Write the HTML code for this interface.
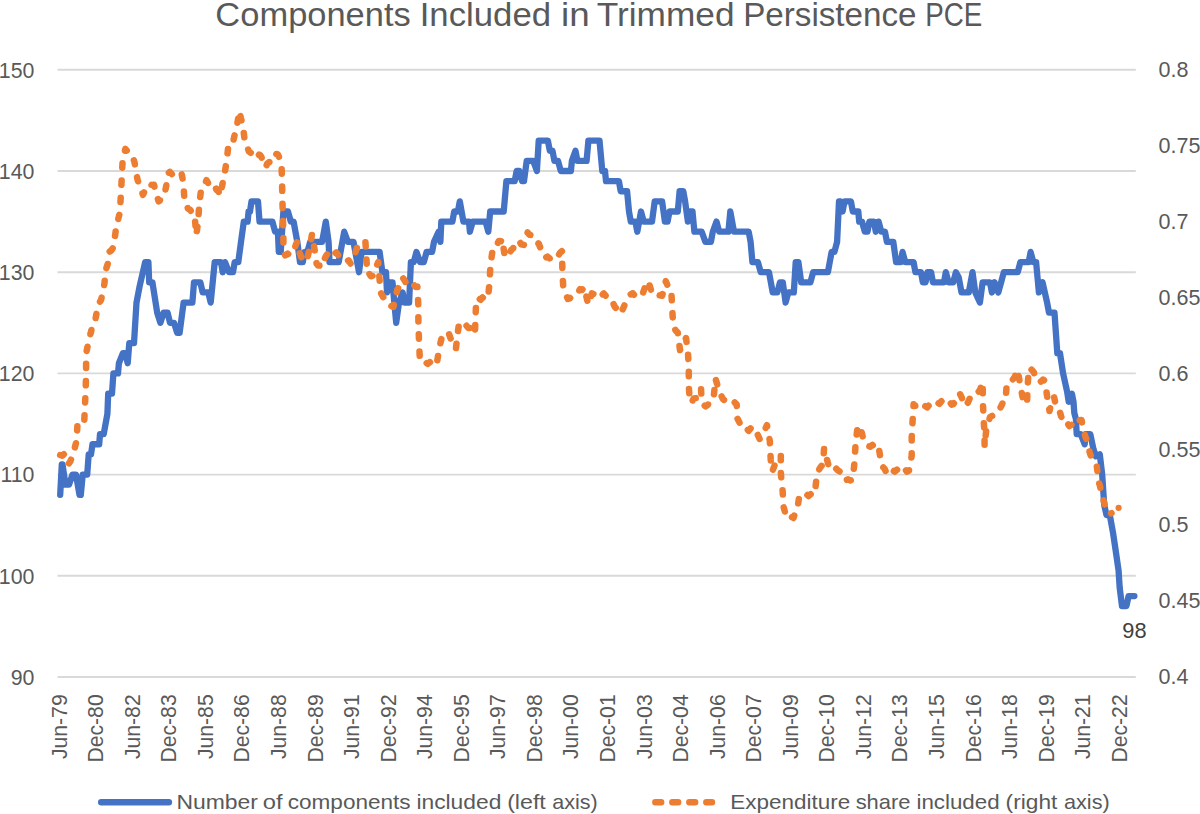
<!DOCTYPE html><html><head><meta charset="utf-8"><style>html,body{margin:0;padding:0;background:#fff;}svg{display:block;}text{font-family:"Liberation Sans", sans-serif;fill:#595959;}</style></head><body>
<svg width="1200" height="814" viewBox="0 0 1200 814">
<rect width="100%" height="100%" fill="#fff"/>
<text x="215.38" y="25.8" font-size="32.6" textLength="195.38" lengthAdjust="spacingAndGlyphs">Components</text><text x="419.70" y="25.8" font-size="32.6" textLength="131.37" lengthAdjust="spacingAndGlyphs">Included</text><text x="561.04" y="25.8" font-size="32.6" textLength="28.62" lengthAdjust="spacingAndGlyphs">in</text><text x="596.82" y="25.8" font-size="32.6" textLength="137.77" lengthAdjust="spacingAndGlyphs">Trimmed</text><text x="743.19" y="25.8" font-size="32.6" textLength="173.35" lengthAdjust="spacingAndGlyphs">Persistence</text><text x="925.14" y="25.8" font-size="32.6" textLength="57.11" lengthAdjust="spacingAndGlyphs">PCE</text>
<path d="M57.5 69.8H1135.8M57.5 171H1135.8M57.5 272.2H1135.8M57.5 373.4H1135.8M57.5 474.6H1135.8M57.5 575.8H1135.8M57.5 677H1135.8" stroke="#D9D9D9" stroke-width="1.9" fill="none"/>
<text transform="translate(34.4 77.6) scale(0.96 1)" font-size="22.2" text-anchor="end">150</text>
<text transform="translate(34.4 178.8) scale(0.96 1)" font-size="22.2" text-anchor="end">140</text>
<text transform="translate(34.4 280) scale(0.96 1)" font-size="22.2" text-anchor="end">130</text>
<text transform="translate(34.4 381.2) scale(0.96 1)" font-size="22.2" text-anchor="end">120</text>
<text transform="translate(34.4 482.4) scale(0.96 1)" font-size="22.2" text-anchor="end">110</text>
<text transform="translate(34.4 583.6) scale(0.96 1)" font-size="22.2" text-anchor="end">100</text>
<text transform="translate(34.4 684.8) scale(0.96 1)" font-size="22.2" text-anchor="end">90</text>
<text transform="translate(1158.6 77) scale(0.97 1)" font-size="22.2">0.8</text>
<text transform="translate(1158.6 152.9) scale(0.97 1)" font-size="22.2">0.75</text>
<text transform="translate(1158.6 228.8) scale(0.97 1)" font-size="22.2">0.7</text>
<text transform="translate(1158.6 304.7) scale(0.97 1)" font-size="22.2">0.65</text>
<text transform="translate(1158.6 380.6) scale(0.97 1)" font-size="22.2">0.6</text>
<text transform="translate(1158.6 456.5) scale(0.97 1)" font-size="22.2">0.55</text>
<text transform="translate(1158.6 532.4) scale(0.97 1)" font-size="22.2">0.5</text>
<text transform="translate(1158.6 608.3) scale(0.97 1)" font-size="22.2">0.45</text>
<text transform="translate(1158.6 684.2) scale(0.97 1)" font-size="22.2">0.4</text>
<text transform="translate(66.7 694.3) rotate(-90)" font-size="21.2" text-anchor="end">Jun-79</text>
<text transform="translate(103.25 694.3) rotate(-90)" font-size="21.2" text-anchor="end">Dec-80</text>
<text transform="translate(139.81 694.3) rotate(-90)" font-size="21.2" text-anchor="end">Jun-82</text>
<text transform="translate(176.36 694.3) rotate(-90)" font-size="21.2" text-anchor="end">Dec-83</text>
<text transform="translate(212.91 694.3) rotate(-90)" font-size="21.2" text-anchor="end">Jun-85</text>
<text transform="translate(249.46 694.3) rotate(-90)" font-size="21.2" text-anchor="end">Dec-86</text>
<text transform="translate(286.02 694.3) rotate(-90)" font-size="21.2" text-anchor="end">Jun-88</text>
<text transform="translate(322.57 694.3) rotate(-90)" font-size="21.2" text-anchor="end">Dec-89</text>
<text transform="translate(359.12 694.3) rotate(-90)" font-size="21.2" text-anchor="end">Jun-91</text>
<text transform="translate(395.67 694.3) rotate(-90)" font-size="21.2" text-anchor="end">Dec-92</text>
<text transform="translate(432.23 694.3) rotate(-90)" font-size="21.2" text-anchor="end">Jun-94</text>
<text transform="translate(468.78 694.3) rotate(-90)" font-size="21.2" text-anchor="end">Dec-95</text>
<text transform="translate(505.33 694.3) rotate(-90)" font-size="21.2" text-anchor="end">Jun-97</text>
<text transform="translate(541.88 694.3) rotate(-90)" font-size="21.2" text-anchor="end">Dec-98</text>
<text transform="translate(578.44 694.3) rotate(-90)" font-size="21.2" text-anchor="end">Jun-00</text>
<text transform="translate(614.99 694.3) rotate(-90)" font-size="21.2" text-anchor="end">Dec-01</text>
<text transform="translate(651.54 694.3) rotate(-90)" font-size="21.2" text-anchor="end">Jun-03</text>
<text transform="translate(688.09 694.3) rotate(-90)" font-size="21.2" text-anchor="end">Dec-04</text>
<text transform="translate(724.65 694.3) rotate(-90)" font-size="21.2" text-anchor="end">Jun-06</text>
<text transform="translate(761.2 694.3) rotate(-90)" font-size="21.2" text-anchor="end">Dec-07</text>
<text transform="translate(797.75 694.3) rotate(-90)" font-size="21.2" text-anchor="end">Jun-09</text>
<text transform="translate(834.3 694.3) rotate(-90)" font-size="21.2" text-anchor="end">Dec-10</text>
<text transform="translate(870.86 694.3) rotate(-90)" font-size="21.2" text-anchor="end">Jun-12</text>
<text transform="translate(907.41 694.3) rotate(-90)" font-size="21.2" text-anchor="end">Dec-13</text>
<text transform="translate(943.96 694.3) rotate(-90)" font-size="21.2" text-anchor="end">Jun-15</text>
<text transform="translate(980.51 694.3) rotate(-90)" font-size="21.2" text-anchor="end">Dec-16</text>
<text transform="translate(1017.07 694.3) rotate(-90)" font-size="21.2" text-anchor="end">Jun-18</text>
<text transform="translate(1053.62 694.3) rotate(-90)" font-size="21.2" text-anchor="end">Dec-19</text>
<text transform="translate(1090.17 694.3) rotate(-90)" font-size="21.2" text-anchor="end">Jun-21</text>
<text transform="translate(1126.73 694.3) rotate(-90)" font-size="21.2" text-anchor="end">Dec-22</text>
<polyline points="60.2,494.84 61.8,464.48 62.5,464.48 65.5,484.72 69,484.72 72.5,474.6 76,474.6 79.5,494.84 80.8,494.84 82.7,474.6 87.2,474.6 88.7,454.36 91,454.36 92.5,444.24 99.2,444.24 100,434.12 103.7,434.12 107.4,413.88 108.2,393.64 112,393.64 113.4,373.4 118,373.4 118.9,363.28 122.9,353.16 125.3,353.16 127.7,363.28 129.3,343.04 134,343.04 136.5,302.56 139.6,286.37 145.2,262.08 148.4,262.08 149.2,282.32 152.4,282.32 157.2,312.68 160.4,322.8 163.6,312.68 167.6,312.68 170,322.8 174,322.8 177.2,332.92 179.6,332.92 183.6,302.56 192.4,302.56 194,282.32 200.3,282.32 202.7,292.44 208.3,292.44 210.7,302.56 214.7,262.08 221,262.08 222.7,272.2 225,262.08 229,272.2 233,272.2 234.7,262.08 238.3,262.08 241,241.84 243.8,221.6 247.6,221.6 248.6,211.48 250,211.48 251.5,201.36 258,201.36 259.5,221.6 272.4,221.6 275.1,231.72 277.9,231.72 278.8,251.96 280.7,251.96 283.4,211.48 288,211.48 290.8,221.6 293.6,221.6 297.3,241.84 300,262.08 302.8,262.08 304.6,251.96 307.4,251.96 310.2,241.84 322.1,241.84 325.8,221.6 328.6,241.84 329.5,262.08 338.7,262.08 344.2,231.72 347.9,241.84 353.5,241.84 359,272.2 361.7,251.96 379.6,251.96 382.4,272.2 386,272.2 387,292.44 389.7,282.32 392.5,282.32 394.3,302.56 396.2,322.8 399,302.56 402.6,292.44 404.5,302.56 409.1,302.56 410.9,262.08 413.7,262.08 416.5,251.96 420.1,262.08 423.8,262.08 426.6,251.96 432.1,251.96 434,241.84 438.6,231.72 440.4,241.84 441.3,221.6 452.4,221.6 454.2,211.48 457.9,211.48 459.8,201.36 463.4,221.6 469,221.6 469.9,231.72 472.7,221.6 485.6,221.6 488.3,231.72 490.2,211.48 503.7,211.48 506.4,181.12 514.7,181.12 516.6,171 519.3,171 522.1,181.12 524,181.12 526.7,160.88 533.2,160.88 536.9,171 538.7,140.64 547.9,140.64 549.8,150.76 552.5,150.76 554.4,160.88 558,160.88 560.8,171 570.9,171 571.9,160.88 575.5,150.76 577.4,160.88 586.6,160.88 588.4,140.64 599.5,140.64 602.3,171 605,171 606,181.12 618.9,181.12 620.7,191.24 627.1,191.24 629,211.48 630.8,221.6 635.4,221.6 637.3,231.72 641,211.48 643.7,221.6 652,221.6 654.7,201.36 662.1,201.36 664.9,221.6 667.6,221.6 669.5,211.48 677.8,211.48 679.6,191.24 683.3,191.24 685.1,201.36 687.9,221.6 689.8,211.48 692.5,211.48 694.4,231.72 701.7,231.72 705.4,241.84 710.9,241.84 712.8,231.72 716.5,221.6 719.2,231.72 728.4,231.72 730.3,211.48 734,231.72 748.7,231.72 750.6,241.84 752.4,262.08 757.9,262.08 760.7,272.2 769,272.2 772.7,292.44 777.3,292.44 780,282.32 782.8,282.32 785.6,302.56 788.3,292.44 793.8,292.44 795.7,262.08 798.4,262.08 801.2,282.32 810.4,282.32 813.2,272.2 827.9,272.2 831.6,251.96 834.4,251.96 837.1,241.84 839,201.36 840.8,201.36 842.6,211.48 844.5,201.36 850.9,201.36 852.8,211.48 858.3,211.48 859.2,221.6 862,221.6 864.8,231.72 867.5,231.72 869.4,221.6 874,221.6 875.8,231.72 878.6,221.6 881.3,231.72 885,231.72 886.9,241.84 893.3,241.84 896.1,262.08 900.7,262.08 902.5,251.96 905.3,262.08 913.6,262.08 915.4,272.2 921,272.2 922.8,282.32 925.6,282.32 927.4,272.2 931.1,272.2 932.9,282.32 944,282.32 945.8,272.2 948.6,282.32 953.2,282.32 955.9,272.2 958.7,277.26 961.5,292.44 968.8,292.44 972.5,272.2 975.3,292.44 979.9,302.56 982.6,282.32 990,282.32 991.9,292.44 994.6,282.32 998.3,292.44 1001.1,282.32 1003.8,272.2 1017.7,272.2 1020.4,262.08 1028.7,262.08 1030.6,251.96 1033.3,262.08 1036.1,262.08 1038.9,292.44 1042.5,282.32 1047.1,302.56 1049,312.68 1054.5,312.68 1057.3,353.16 1060,353.16 1063.1,373.4 1067.1,391.62 1068.7,401.74 1071.9,393.64 1073.5,401.74 1074.3,412.87 1075.9,418.94 1076.7,434.12 1080.7,434.12 1084.7,444.24 1085.5,434.12 1090.3,434.12 1093.5,449.3 1095.9,456.38 1099.8,454.36 1102.2,474.6 1104.2,504.96 1106.5,515.08 1109.8,515.08 1113.1,533.3 1116.4,555.56 1118.6,570.74 1119.7,587.94 1122,606.16 1126.4,606.16 1128.6,596.04 1134.4,596.04" fill="none" stroke="#4472C4" stroke-width="6.3" stroke-linejoin="round" stroke-linecap="round"/>
<polyline points="60.2,455 62.23,455.68 64.26,453.93 66,454.5 68.5,464 70.35,461.41 72,457 74.5,449 76.7,440 77.5,423.4 80.51,422.11 82.54,423.38 84.2,422 85,405.5 85.7,387.5 86.1,373.8 86.1,353.8 89.3,337.8 90.66,333.29 93.3,321.9 95.5,319 98,305 101,300 103,292 104.5,283 105.5,271 108,263 109,252 110.97,250.68 113,248 114.5,240 116.2,227.1 119.9,212.4 120.8,195.8 121.7,179.2 122.6,160.8 125.4,148.8 127.21,151.32 129.24,151.38 130.9,153.4 133.3,158.42 134.6,162.6 137.4,179.2 139.39,185.55 141.42,190.01 142.9,194.9 145.49,189.55 147.52,188.28 149.4,183.8 151.58,184.97 154,184.8 155.64,191.45 158.6,201.3 159.7,200.82 161.73,195.44 163.76,194.94 165,192.1 168.7,172.8 169.85,171.88 171.88,174.18 173.91,172.16 176.1,172.8 177.97,171.82 180.01,174.27 181.6,173.7 183.4,182.9 184.4,199.5 186.1,203.12 188,208.7 190.16,209.83 192.19,213.09 194.5,214.2 196.3,235 198.2,221.6 199.1,206 201,190.3 202.34,186.58 204.37,184.85 206.5,180.2 208.43,183.58 211.1,185.7 213.9,183.8 216.56,189.89 218.59,191.69 220.3,195.8 222.65,183.09 224,177.4 226.7,160.8 228.6,143.3 230.77,141.8 233.2,141.5 234.83,133.93 236.9,125.8 239.4,111 240.92,118.21 242.9,125.8 244.7,140.5 247.5,147.9 249.05,151.63 251.08,152.94 253,157.1 255.14,155.73 257.17,157.15 259.2,154.63 260.4,155.3 263.26,160.7 265.9,167.3 267.32,163.44 269.35,162.09 271.38,156.38 272.4,155.3 273.41,156.19 275.44,153.78 277.9,154.4 279.5,158.26 281.6,166.3 282.1,184.8 282.5,203.2 283,219.8 283.4,236.4 283.4,252.6 285.3,255.4 287.63,253.64 289.66,255.16 292.6,253.6 293.72,252.13 295.75,244.86 297.3,241.6 299.1,251.7 302.8,261 303.87,259.41 305.9,260.32 307.4,258.2 310.2,245.3 312,234.2 314.8,250.8 316.6,263.7 318.09,265.62 320.12,265.54 321.2,267.4 324.18,259.58 325.8,256.3 328.24,252.73 330.27,253.04 331.3,250.8 332.3,250.24 334.33,253.6 336.36,252.45 338.39,255.46 340.6,255.4 342.45,258.38 344.2,259.1 346.51,261.32 348.55,260.31 350.58,263.56 351.6,262.8 352.61,258.57 354.64,255.11 357.1,247.1 358.7,247.17 360.73,244.05 362.76,244.51 365.4,241.6 366.4,258.2 367.3,273.8 368.85,273.14 370.88,276.26 373.7,275.7 374.94,273.26 376.97,265.12 378.3,262 380.5,292.1 383.07,296.88 386,300.4 387.13,302.52 389.16,302.56 391.19,305.93 393.4,306.9 395.25,299.34 397.1,290.3 399.31,285.81 401.34,279.71 402.6,277.4 405.4,281.79 407.2,286.6 409.46,285.03 411.9,284.8 413.52,284.53 415.56,286.91 417.4,286.6 418.3,305 418.4,323.2 419,340.4 419.7,356.3 422.7,363.7 425.8,362.5 427.74,363.9 429.77,362.05 431.8,363.78 433.83,361.89 435.86,364.35 436.9,363.1 439.3,347.7 441.95,336.77 443,334.2 446.01,332.91 448.04,335.02 449.1,334.2 450.4,337.9 452.11,342.27 454.14,344.55 455.9,349 457.1,337.9 459,323.8 460.23,325.31 462.7,324.4 464.29,326.57 466.32,325.51 468.35,328 470,328.1 472.41,331.89 474.9,334.2 475.6,315.8 476.2,299.2 478.5,298.18 480.53,299.75 482.56,297.48 484.6,299.16 486.63,297.54 488,298 489.5,283 490.5,264.5 492.9,248 494.75,245.2 496.78,244.97 498.81,240.97 500.84,241.34 502.1,238.7 504.9,257.1 506.93,253.67 508.96,253.55 511.4,249.8 513.02,248.53 515.05,243.35 517.8,240.5 519.12,240.81 521.15,244.25 524,245 525.21,242 527.6,232.4 529.27,234.72 532.2,235.2 533.33,237.88 535.36,238.32 537.39,242.75 538.7,243.5 541.45,250.64 544.2,256.4 545.51,257.83 547.54,256.56 549.57,258.36 551.61,257.43 553.64,259.43 555.3,259.1 557.7,257.07 559.73,253.11 562,251 562.4,271.3 563.3,287.9 565.82,294.58 567.9,299 569.88,298.38 571.91,295.61 573.94,295.81 576.2,293.4 578,292.63 580.03,289.14 582.06,289.97 584.5,287 586.13,295.41 588.2,304.5 590.19,299.34 591.9,293.4 594.25,294.28 596.28,292.51 598.31,294.1 600.34,292.12 602.37,294.79 603.8,293.4 606.43,296.72 608.46,296.57 610.49,300.04 612.1,300.8 614.55,306.35 616.58,308.83 618.6,313.7 620.65,310.1 622.68,309.4 624.71,304.64 626,303.6 628.77,297.45 630.6,294.4 632.83,293.22 634.86,295.77 636.89,294.2 638.92,296.12 641.6,295.3 642.98,292.99 645.01,287.04 647.04,285.15 648.3,281.1 651.1,290.3 653.14,290.03 655.17,293.49 657.2,292.54 659.23,295.26 662.1,295.8 663.29,291.81 665.8,281.1 667.35,284.91 669.38,286.06 671.3,290.3 672.2,308.7 673.2,325.3 675.47,330.18 677.8,332.7 680,350 681.56,346.01 683.59,343.59 686,338 688,353 688.8,369.5 688.8,386.1 689.8,401.7 691.6,402.7 693.75,398.39 695.78,398.13 697,395 699.84,391.31 701,388 701.5,399 703.9,404.8 705.4,406.4 707.96,404.78 709.99,400.06 712.02,399.76 713.7,397.1 715.5,378.7 718.3,387.9 720.15,393.37 722.9,399 724.21,400.04 726.24,398.78 728.27,400.28 730.3,399.9 732.33,402.18 734.36,402.01 736.7,404.5 737.5,418.7 740.45,424.44 742.48,425.08 744,428.8 746.54,428.25 748.57,430.88 750.6,428.46 752.63,431.54 754.67,429.61 755.9,430.7 759.6,439 760.76,437.6 762.79,432.23 764.82,429.96 767,425.1 769.8,440.8 770.7,459.2 771.6,471.2 772.94,469.68 774.97,464.35 777,463.3 779.03,457.24 780.8,455.5 780.8,472.1 781.5,481.3 782.6,490.6 783.6,507 786.5,517.5 789.19,518.68 791.22,516.71 793.5,518 795.28,512.32 797.5,508 799,498 801.37,498.17 803.4,495.95 805.43,497.97 807.46,494.99 808.5,496 811.52,493.52 813.55,494.85 814.9,493.3 816.7,475.8 819.64,468.4 821.68,465.78 823.2,461.1 824.1,448.2 825.74,455.29 828.7,465.7 829.8,467.49 831.83,465.89 833.86,469.2 835.89,468.37 837.9,470.3 839.95,471.74 841.98,477.05 844.01,477.91 845.3,480.4 848.07,479.36 850.1,480.54 852.7,479.5 854.6,461.3 855.5,444.8 857.4,428.2 860.1,425.4 862.9,437.4 864.32,438.63 866.35,444.87 867.5,445.7 870.41,446.65 872.44,444.84 874.47,447.65 876.5,445.3 878.6,446.6 881.3,463.2 882.59,466.62 884.62,468.69 886.9,474.2 888.68,472.68 890.72,473.07 892.75,470.16 894.78,471.73 897,469.6 898.84,470.77 900.87,468.58 902.9,471.04 904.93,468.96 906.96,471.69 909,470.6 911.7,455.8 911.7,437.4 912.6,420.8 913.6,404.2 915.08,405.9 917.11,405.61 919.14,408.53 920.9,408.8 923.21,408.77 925.24,406.18 927.27,407.34 929.3,404.87 931.33,405.79 933.8,404.2 935.39,405.14 937.42,402.44 939.45,403.79 941.48,401.27 943.51,403.16 944.9,401.5 947.57,403.31 949.6,401.7 951.63,404.69 953.2,404.2 955.69,400.94 957.73,395.4 959.6,393.2 961.79,397.62 963.82,403.87 965.2,406.1 967.88,402.58 969.91,397.99 971.6,395.9 973.97,393.19 976,393.9 979,391.3 980.06,389.64 982.7,382.1 982.9,401.5 983.6,419 984.5,433.7 984.6,446.6 986.4,428.2 988.18,423.88 990,417.1 992.25,415.93 994.28,412.02 996.31,411.89 997.4,409.8 1000.37,407.84 1002.4,403.51 1004.43,403.37 1005.5,401.6 1006.7,384.4 1008.49,383.79 1010.52,380.07 1012.55,379.81 1014.7,377 1017.1,369.7 1018.64,375.8 1020.2,384.4 1022.7,397.9 1024.74,401.84 1027,404.1 1027.6,386.9 1028.8,368.4 1030.83,368.88 1033.7,372.1 1036.2,379.5 1038.95,378.68 1040.98,381.5 1043.01,379.5 1044.8,380.7 1047.2,396.7 1049.5,411 1052,400 1054,396.7 1056,406 1057.22,408.47 1059.1,409.5 1061.29,416.7 1063.9,423.1 1065.35,424.64 1067.38,423.21 1069.41,426.06 1071.44,424.81 1072.7,426.3 1075.5,423.28 1077.53,424.14 1079.56,420.15 1081.5,419.9 1083.1,428.7 1085.65,437.6 1087.1,440.6 1089.71,452.41 1091.1,456.6 1093.78,461.61 1096.7,465.4 1098.7,482.1 1099.87,485.46 1101.9,495.52 1103.1,498.7 1105.96,509.12 1107.6,513.1 1110.02,513.81 1111.5,513.1" fill="none" stroke="#ED7D31" stroke-width="6.5" stroke-linejoin="round" stroke-linecap="round" stroke-dasharray="4.3 12.9"/>
<circle cx="1118.6" cy="507.8" r="3.1" fill="#ED7D31"/>
<text x="1122.3" y="637.8" font-size="21.8" style="fill:#404040">98</text>
<line x1="101.2" y1="802.3" x2="168.9" y2="802.3" stroke="#4472C4" stroke-width="6.4" stroke-linecap="round"/>
<text x="176.42" y="808.8" font-size="21" textLength="81.55" lengthAdjust="spacingAndGlyphs">Number</text><text x="262.77" y="808.8" font-size="21" textLength="19.78" lengthAdjust="spacingAndGlyphs">of</text><text x="287.73" y="808.8" font-size="21" textLength="122.91" lengthAdjust="spacingAndGlyphs">components</text><text x="416.41" y="808.8" font-size="21" textLength="84.93" lengthAdjust="spacingAndGlyphs">included</text><text x="507.15" y="808.8" font-size="21" textLength="38.67" lengthAdjust="spacingAndGlyphs">(left</text><text x="552.18" y="808.8" font-size="21" textLength="45.45" lengthAdjust="spacingAndGlyphs">axis)</text>
<line x1="655.3" y1="802.2" x2="712" y2="802.2" stroke="#ED7D31" stroke-width="6.4" stroke-linecap="round" stroke-dasharray="5.9 11.1"/>
<text x="730.36" y="808.8" font-size="21" textLength="120.00" lengthAdjust="spacingAndGlyphs">Expenditure</text><text x="855.65" y="808.8" font-size="21" textLength="54.90" lengthAdjust="spacingAndGlyphs">share</text><text x="916.44" y="808.8" font-size="21" textLength="83.18" lengthAdjust="spacingAndGlyphs">included</text><text x="1005.62" y="808.8" font-size="21" textLength="51.73" lengthAdjust="spacingAndGlyphs">(right</text><text x="1063.97" y="808.8" font-size="21" textLength="45.72" lengthAdjust="spacingAndGlyphs">axis)</text>
</svg></body></html>
